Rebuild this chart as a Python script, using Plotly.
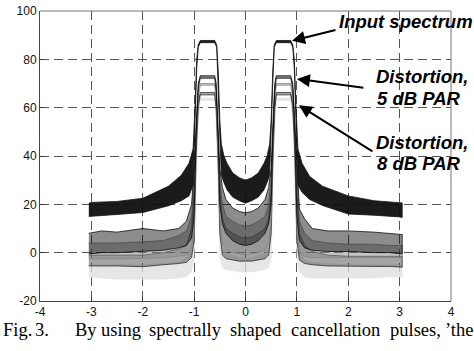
import plotly.graph_objects as go

# ---------------- data ----------------
# Input spectrum: upper / lower envelope of the noisy trace
in_x = [-3.05, -3.0, -2.5, -2.0, -1.5, -1.25, -1.1, -1.02, -0.98, -0.95, -0.92, -0.88,
        -0.6, -0.56, -0.53, -0.5, -0.47, -0.42, -0.36, -0.25, -0.12, 0.0,
        0.12, 0.25, 0.36, 0.42, 0.47, 0.5, 0.53, 0.56, 0.6,
        0.88, 0.92, 0.95, 0.98, 1.02, 1.1, 1.25, 1.5, 2.0, 2.5, 3.0, 3.05]
in_up = [20.5, 20.8, 21.2, 22.5, 27.5, 32.0, 37.0, 43.0, 62.0, 80.0, 86.0, 87.8,
         87.8, 86.0, 75.0, 55.0, 45.0, 40.0, 37.0, 33.0, 31.0, 30.0,
         31.0, 33.0, 37.0, 40.0, 45.0, 55.0, 75.0, 86.0, 87.8,
         87.8, 86.0, 80.0, 62.0, 43.0, 37.0, 31.5, 27.5, 23.5, 21.5, 20.8, 20.6]
in_lo = [15.0, 15.0, 15.8, 16.6, 19.4, 21.5, 23.5, 28.0, 56.0, 76.0, 85.0, 86.9,
         86.9, 85.0, 70.0, 48.0, 32.0, 29.0, 26.0, 23.0, 21.5, 20.5,
         21.5, 23.0, 26.0, 29.0, 32.0, 48.0, 70.0, 85.0, 86.9,
         86.9, 85.0, 76.0, 56.0, 28.0, 25.0, 22.0, 19.5, 16.0, 15.5, 14.8, 14.6]

# Distortion, 5 dB PAR (black trace)
b_x = [-3.05, -2.8, -2.5, -2.0, -1.6, -1.3, -1.15, -1.05, -1.0, -0.96, -0.92, -0.88,
       -0.6, -0.57, -0.53, -0.5, -0.45, -0.38, -0.25, -0.12, 0.0,
       0.12, 0.25, 0.38, 0.45, 0.5, 0.53, 0.57, 0.6,
       0.88, 0.92, 0.96, 1.0, 1.05, 1.15, 1.3, 1.6, 2.0, 2.5, 2.8, 3.05]
b_up = [8.0, 9.0, 8.5, 10.0, 9.0, 10.0, 13.0, 20.0, 35.0, 55.0, 70.0, 73.2,
        73.2, 70.0, 52.0, 35.0, 27.0, 22.0, 18.5, 17.0, 16.5,
        17.0, 18.5, 22.0, 27.0, 35.0, 52.0, 70.0, 73.2,
        73.2, 70.0, 55.0, 35.0, 18.0, 14.0, 10.0, 9.0, 9.0, 8.5, 8.0, 7.5]
b_lo = [-0.5, 0.0, 0.0, 0.5, 1.0, 2.0, 3.0, 6.0, 15.0, 48.0, 68.0, 72.2,
        72.2, 67.0, 45.0, 20.0, 12.0, 8.0, 5.0, 3.5, 3.0,
        3.5, 5.0, 8.0, 12.0, 20.0, 45.0, 67.0, 72.2,
        72.2, 68.0, 48.0, 15.0, 5.0, 2.0, 1.0, 0.5, 0.5, 0.0, 0.0, -0.5]

# middle grey trace
c_x = b_x
c_up = [4.0, 4.0, 4.0, 4.5, 5.0, 7.0, 9.0, 15.0, 30.0, 52.0, 66.0, 70.0,
        70.0, 66.0, 48.0, 30.0, 20.0, 15.0, 13.0, 11.5, 11.0,
        11.5, 13.0, 15.0, 20.0, 30.0, 48.0, 66.0, 70.0,
        70.0, 66.0, 52.0, 30.0, 13.0, 8.0, 5.0, 4.0, 3.5, 3.5, 3.0, 3.0]
c_lo = [-2.5, -2.5, -2.5, -2.4, -2.0, -1.5, -1.0, 2.0, 10.0, 45.0, 64.0, 69.3,
        69.3, 63.0, 40.0, 14.0, 4.0, 1.0, 0.0, -0.5, -1.0,
        -0.5, 0.0, 1.0, 4.0, 14.0, 40.0, 63.0, 69.3,
        69.3, 64.0, 45.0, 10.0, 0.0, -1.5, -2.0, -2.0, -1.8, -2.0, -2.0, -2.0]

# Distortion, 8 dB PAR (dark trace)
d_x = b_x
d_up = [-1.0, -1.0, -1.0, -1.0, 0.0, 1.5, 3.0, 10.0, 25.0, 48.0, 62.0, 66.3,
        66.3, 62.0, 44.0, 25.0, 14.0, 10.0, 8.0, 6.5, 6.0,
        6.5, 8.0, 10.0, 14.0, 25.0, 44.0, 62.0, 66.3,
        66.3, 62.0, 48.0, 25.0, 8.0, 3.0, 0.5, -1.0, -1.5, -1.5, -1.5, -1.5]
d_lo = [-5.5, -5.5, -5.5, -5.8, -5.0, -4.5, -4.0, -2.0, 5.0, 41.0, 60.0, 65.3,
        65.3, 59.0, 36.0, 8.0, -1.0, -2.5, -3.0, -3.5, -3.5,
        -3.5, -3.0, -2.5, -1.0, 8.0, 36.0, 59.0, 65.3,
        65.3, 60.0, 41.0, 5.0, -3.0, -4.5, -5.0, -5.5, -5.7, -5.7, -5.7, -6.0]

# faint light-grey trace underneath
e_x = b_x
e_up = [-5.0, -5.0, -5.0, -5.0, -4.5, -4.0, -2.0, 2.0, 15.0, 40.0, 58.0, 64.0,
        64.0, 56.0, 35.0, 15.0, 2.0, 0.0, -1.0, -2.0, -2.0,
        -2.0, -1.0, 0.0, 2.0, 15.0, 35.0, 56.0, 64.0,
        64.0, 58.0, 40.0, 15.0, 0.0, -3.0, -4.0, -4.5, -5.0, -5.0, -5.0, -5.0]
e_lo = [-10.0, -10.5, -11.0, -11.0, -11.0, -10.5, -10.0, -8.0, -2.0, 30.0, 55.0, 63.0,
        63.0, 53.0, 25.0, -2.0, -6.0, -7.0, -7.5, -8.0, -8.0,
        -8.0, -7.5, -7.0, -6.0, -2.0, 25.0, 53.0, 63.0,
        63.0, 55.0, 30.0, -2.0, -8.0, -10.0, -10.5, -10.5, -10.5, -10.5, -10.0, -10.0]

x_ticks = [-4, -3, -2, -1, 0, 1, 2, 3, 4]
x_ticklabels = ['-4', '-3', '-2', '-1', '0', '1', '2', '3', '4']
y_ticks = [-20, 0, 20, 40, 60, 80, 100]
y_ticklabels = ['-20', '0', '20', '40', '60', '80', '100']

caption_words = ['Fig.', '3.', 'By', 'using', 'spectrally', 'shaped',
                 'cancellation', 'pulses,', '\u2019the']
caption_left_px = [1, 33, 73, 99, 147, 228, 289, 388, 443]

# ---------------- figure ----------------
W, H = 474, 351
ML, MR, MT, MB = 40, 23, 4, 50
PW, PH = W - ML - MR, H - MT - MB


def px2paper(px, py):
    return (px - ML) / PW, (H - MB - py) / PH


fig = go.Figure()


def band(x, up, lo, fillcolor, linecolor, lw):
    xs = list(x) + list(x)[::-1]
    ys = list(up) + list(lo)[::-1]
    fig.add_trace(go.Scatter(x=xs, y=ys, mode='lines', fill='toself',
                             fillcolor=fillcolor,
                             line=dict(color=linecolor, width=lw),
                             hoverinfo='skip', showlegend=False))


band(e_x, e_up, e_lo, 'rgba(222,222,222,0.75)', 'rgba(220,220,220,0.8)', 0.5)
band(d_x, d_up, d_lo, 'rgba(40,40,40,0.42)', 'rgba(30,30,30,0.9)', 0.8)
band(c_x, c_up, c_lo, 'rgba(140,140,140,0.5)', 'rgba(130,130,130,0.9)', 0.8)
band(b_x, b_up, b_lo, 'rgba(0,0,0,0.45)', 'rgba(0,0,0,0.95)', 0.8)
band(in_x, in_up, in_lo, 'rgba(15,15,15,0.95)', 'rgba(20,20,20,1)', 0.8)

axis_common = dict(showgrid=True, gridcolor='#555555', gridwidth=1.2,
                   griddash='9px,5px', zeroline=False, showline=True,
                   linecolor='#444444', linewidth=1, ticks='inside', ticklen=4,
                   tickcolor='#333333', ticklabeloverflow='allow',
                   tickfont=dict(family='Liberation Sans, Arial', size=12, color='#111111'))

fig.update_layout(
    width=W, height=H,
    margin=dict(l=ML, r=MR, t=MT, b=MB),
    paper_bgcolor='white', plot_bgcolor='white',
    xaxis=dict(range=[-4, 4], tickvals=x_ticks, ticktext=x_ticklabels, **axis_common),
    yaxis=dict(range=[-20, 100], tickvals=y_ticks, ticktext=y_ticklabels, **axis_common),
)

# frame: top and right borders
fig.add_shape(type='line', xref='paper', yref='paper', x0=0, x1=1, y0=1, y1=1,
              line=dict(color='#777777', width=1))
fig.add_shape(type='line', xref='paper', yref='paper', x0=1, x1=1, y0=0, y1=1,
              line=dict(color='#777777', width=1))

lab_font = dict(family='Liberation Sans, Arial', size=18.5, color='black')
labels = [('<b><i>Input spectrum</i></b>', 337, 14.5),
          ('<b><i>Distortion,</i></b>', 374, 71.5),
          ('<b><i>5 dB PAR</i></b>', 375, 94),
          ('<b><i>Distortion,</i></b>', 374, 138.5),
          ('<b><i>8 dB PAR</i></b>', 375, 160)]
for t, lx, ly in labels:
    px_, py_ = px2paper(lx, ly)
    fig.add_annotation(text=t, x=px_, y=py_, xref='paper', yref='paper',
                       xanchor='left', yanchor='middle', showarrow=False,
                       font=lab_font)

# arrows (tip in data coords, tail offset in pixels)
arrows = [(0.905, 87.7, 45, -11), (1.0, 71.9, 68, 9), (1.04, 61.0, 75, 47)]
for ax_, ay_, dx, dy in arrows:
    fig.add_annotation(x=ax_, y=ay_, xref='x', yref='y', text='', showarrow=True,
                       ax=dx, ay=dy, arrowhead=2, arrowsize=1.3, arrowwidth=2,
                       arrowcolor='black')

cap_font = dict(family='Liberation Serif, Times New Roman', size=18.5, color='black')
for w, lx in zip(caption_words, caption_left_px):
    px_, py_ = px2paper(lx, 331)
    fig.add_annotation(text=w, x=px_, y=py_, xref='paper', yref='paper',
                       xanchor='left', yanchor='middle', showarrow=False,
                       font=cap_font)

fig.write_html('out.html')
